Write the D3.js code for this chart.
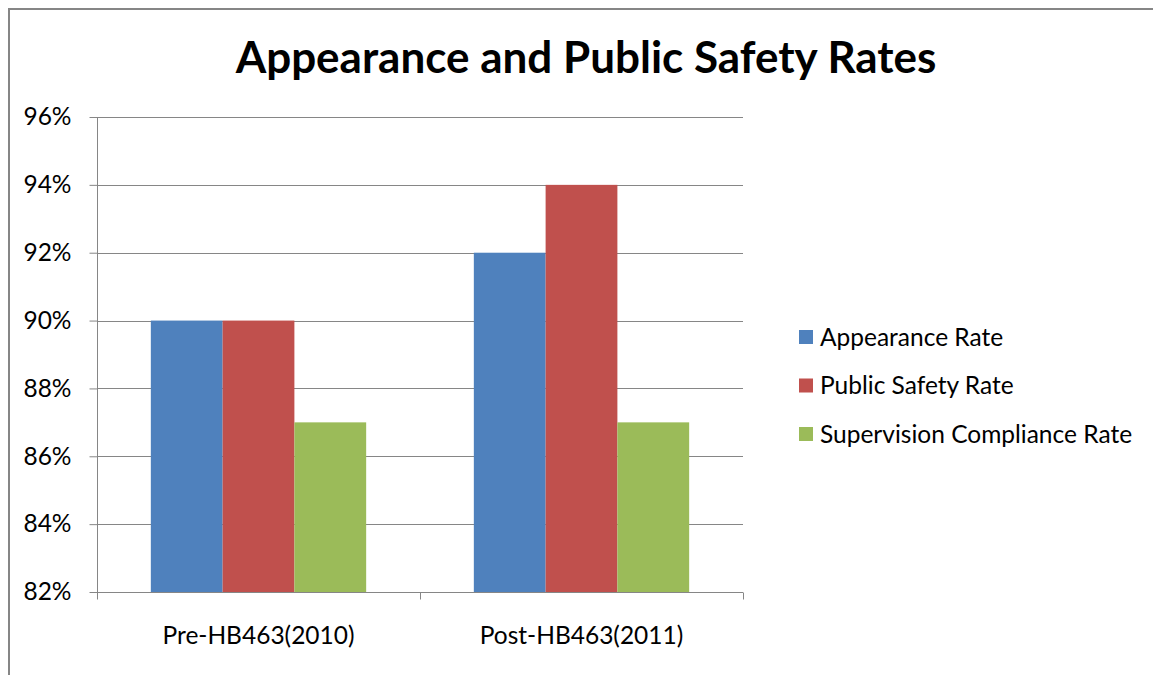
<!DOCTYPE html>
<html><head><meta charset="utf-8">
<script src="https://cdn.jsdelivr.net/npm/d3@7"></script>
<style>body{margin:0;background:#fff}svg{display:block}text{font-family:Lato,"Open Sans",sans-serif;fill:#000}</style>
</head><body><svg id="c" width="1153" height="675"></svg>
<script>
const categories = ["Pre-HB463(2010)", "Post-HB463(2011)"];
const seriesNames = ["Appearance Rate", "Public Safety Rate", "Supervision Compliance Rate"];
const appearanceRate = [90, 92];
const publicSafetyRate = [90, 94];
const supervisionComplianceRate = [87, 87];
const yTicks = [82, 84, 86, 88, 90, 92, 94, 96];
const colors = ["#4f81bd", "#c0504d", "#9bbb59"];
const seriesValues = [appearanceRate, publicSafetyRate, supervisionComplianceRate];

const svg = d3.select("#c");
svg.append("rect").attr("x", 9).attr("y", 9).attr("width", 1160).attr("height", 700)
  .attr("fill", "none").attr("stroke", "#868686").attr("stroke-width", 2);

const L = 97, R = 743, T = 117, B = 592;
const FS = 24.5;
const y = d3.scaleLinear().domain([82, 96]).range([B, T]);
const x0 = d3.scaleBand().domain(categories).range([L, R]);
const x1 = d3.scaleBand().domain(seriesNames).range([0, x0.bandwidth()]).paddingOuter(0.75);

svg.append("text").attr("x", 586).attr("y", 73).attr("text-anchor", "middle")
  .attr("font-size", 44).attr("font-weight", "bold").text("Appearance and Public Safety Rates");

// gridlines
svg.append("g").selectAll("line").data(yTicks).join("line")
  .attr("x1", L).attr("x2", R).attr("y1", d => Math.round(y(d)) + 0.5).attr("y2", d => Math.round(y(d)) + 0.5)
  .attr("stroke", "#868686").attr("stroke-width", 1);

// bars
categories.forEach((c, ci) => {
  svg.append("g").selectAll("rect").data(seriesNames).join("rect")
    .attr("x", s => x0(c) + x1(s))
    .attr("width", x1.bandwidth())
    .attr("y", (s, si) => y(seriesValues[si][ci]))
    .attr("height", (s, si) => y(82) - y(seriesValues[si][ci]))
    .attr("fill", (s, si) => colors[si]);
});

// y axis
const ya = svg.append("g").attr("transform", `translate(${L + 0.5},0)`)
  .call(d3.axisLeft(y).tickValues(yTicks).tickSize(8).tickPadding(18).tickFormat(d => d + "%"));
ya.select(".domain").attr("stroke", "#868686").attr("d", `M0,${T}V${B}`);
ya.selectAll(".tick line").attr("stroke", "#868686");
ya.selectAll(".tick text").attr("font-size", FS).attr("font-family", "Lato, sans-serif");

// x axis
const xa = svg.append("g").attr("transform", `translate(0,${B + 0.5})`)
  .call(d3.axisBottom(x0).tickSize(0).tickPadding(34));
xa.select(".domain").attr("stroke", "#868686").attr("d", `M${L},0H${R}`);
xa.selectAll(".tick text").attr("font-size", FS).attr("font-family", "Lato, sans-serif");
const bounds = [L, L + x0.step(), R];
xa.selectAll(".sep").data(bounds).join("line").attr("class", "sep")
  .attr("x1", d => Math.round(d) + 0.5).attr("x2", d => Math.round(d) + 0.5).attr("y1", 0).attr("y2", 7)
  .attr("stroke", "#868686");

// legend
const lg = svg.append("g").selectAll("g").data(seriesNames).join("g")
  .attr("transform", (d, i) => `translate(799,${337 + i * 48.5})`);
lg.append("rect").attr("x", 0).attr("y", -7).attr("width", 14).attr("height", 14).attr("fill", (d, i) => colors[i]);
lg.append("text").attr("x", 21).attr("y", 8.5).attr("font-size", FS).text(d => d);
</script></body></html>
